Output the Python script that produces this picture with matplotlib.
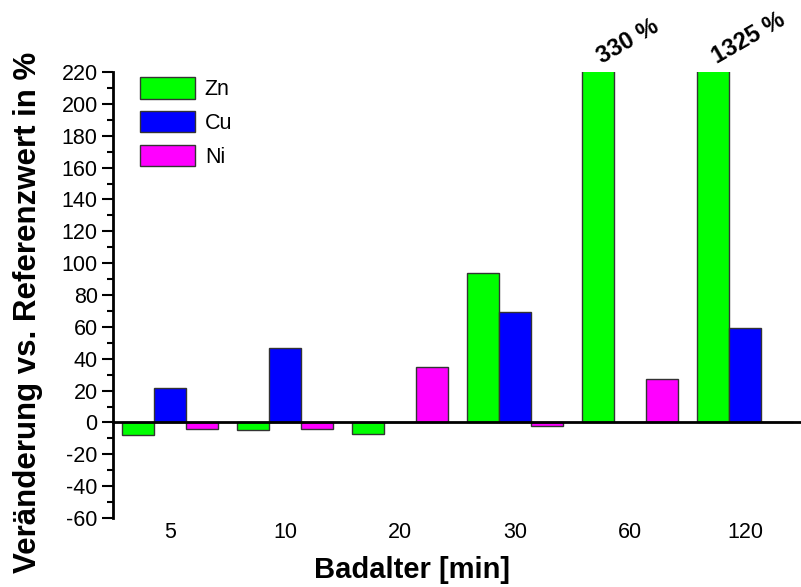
import numpy as np
import matplotlib
matplotlib.use("Agg")
import matplotlib.pyplot as plt
from matplotlib.patches import Patch
from matplotlib.ticker import MultipleLocator

plt.rcParams['font.family'] = ['Liberation Sans', 'DejaVu Sans']
plt.rcParams['axes.unicode_minus'] = False

# Badalter-Gruppen und Veränderung in %
groups = ['5', '10', '20', '30', '60', '120']
zn = [-8, -5, -7, 93.5, 330, 1325]
cu = [21.5, 47, 0, 69.5, 0, 59.5]
ni = [-4, -4, 34.5, -2, 27.5, 0]
big_labels = {4: '330 %', 5: '1325 %'}

colors = {'Zn': '#00ff00', 'Cu': '#0000ff', 'Ni': '#ff00ff'}

fig = plt.figure(figsize=(8.01, 5.87), dpi=100)
ax = fig.add_axes([113/801, 69/587, 1 - 113/801, (518-72)/587])

x = np.arange(len(groups))
w = 0.278
for off, vals, name in [(-w, zn, 'Zn'), (0, cu, 'Cu'), (w, ni, 'Ni')]:
    ax.bar(x + off, vals, width=w, color=colors[name], edgecolor='#333333',
           linewidth=1.0, zorder=2)

ax.set_xlim(-0.496, 5.487)
ax.set_ylim(-60, 220)

# Achsen wie im Original: nur links und Nulllinie
ax.spines['top'].set_visible(False)
ax.spines['right'].set_visible(False)
ax.spines['bottom'].set_position(('data', 0))
ax.spines['bottom'].set_linewidth(2)
ax.spines['left'].set_linewidth(2)
ax.spines['bottom'].set_zorder(3)

ax.yaxis.set_major_locator(MultipleLocator(20))
ax.yaxis.set_minor_locator(MultipleLocator(10))
ax.tick_params(axis='y', which='major', length=8, width=1.5, labelsize=15.5, pad=3)
ax.tick_params(axis='y', which='minor', length=4, width=1.5)
ax.set_xticks(x)
ax.set_xticklabels([])
ax.tick_params(axis='x', length=0)
for xi, g in zip(x, groups):
    ax.text(xi, -69, g, ha='center', va='center', fontsize=15.5,
            transform=ax.transData, clip_on=False)

for i, lab in big_labels.items():
    ax.annotate(lab, xy=(x[i] - w, 220), xytext=(5, 3), textcoords='offset points',
                ha='left', va='bottom', rotation=30, rotation_mode='anchor',
                fontsize=17, fontweight='bold', annotation_clip=False)

fig.text(28/801, 1 - 312/587, 'Veränderung vs. Referenzwert in %', rotation=90,
         ha='center', va='center', fontsize=22.5, fontweight='bold')
fig.text(412/801, 1 - 570/587, 'Badalter [min]', ha='center', va='center',
         fontsize=21, fontweight='bold')

handles = [Patch(facecolor=colors[n], edgecolor='#333333', linewidth=1.0, label=n)
           for n in ['Zn', 'Cu', 'Ni']]
ax.legend(handles=handles, loc='upper left', bbox_to_anchor=(140/801, 1 - 77/587),
          bbox_transform=fig.transFigure, frameon=False, fontsize=15.5,
          handlelength=55/21.5, handleheight=25/21.5, handletextpad=0.45,
          labelspacing=0.5, borderpad=0, borderaxespad=0)

fig.savefig('out.png', dpi=100)
